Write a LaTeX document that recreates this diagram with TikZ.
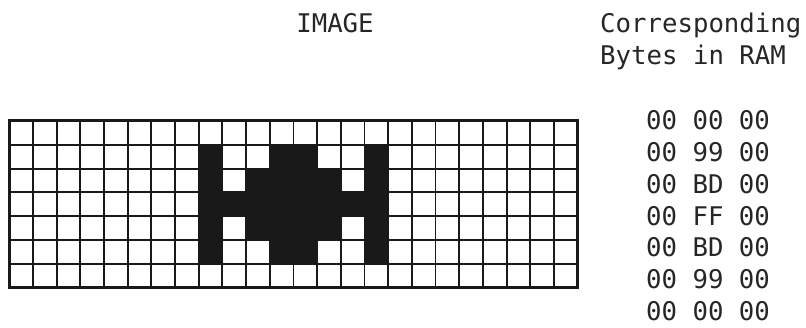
\documentclass[tikz,border=0pt]{standalone}
\usepackage{fontspec}
\newfontfamily\bytefont{DejaVu Sans Mono}
\begin{document}
\begin{tikzpicture}[x=1pt,y=-1pt,
  lbl/.style={font=\bytefont\fontsize{25.7}{30}\selectfont, inner sep=0pt, text=black!85},
  gridline/.style={line width=1.9pt, black!90},
  border/.style={line width=3pt, black!90},
  pixon/.style={fill=black!90},
  pixoff/.style={fill=white}]
\useasboundingbox (0,0) rectangle (806,328);
% headings
\node[lbl, anchor=base] (img) at (335,33) {IMAGE};
\node[lbl, anchor=base west] (corr) at (600,33) {Corresponding};
\node[lbl, anchor=base west] (bytes) at (600,65) {Bytes in RAM};
% byte rows
\foreach \k/\b in {0/00,1/99,2/BD,3/FF,4/BD,5/99,6/00}{
  \node[lbl, anchor=base] (row\k) at (708,{130+31.67*\k}) {00 \b{} 00};
}
% pixel grid
\begin{scope}[shift={(9.3,120.8)}, x=23.68pt, y=-23.88pt]
  \fill[pixon] (8,1) rectangle (16,6);
  \foreach \c/\r in {9/1,10/1,13/1,14/1,9/2,14/2,9/4,14/4,9/5,10/5,13/5,14/5}{
    \fill[pixoff] (\c,\r) rectangle ++(1,1);
  }
  \foreach \i in {1,...,23}{ \draw[gridline] (\i,0) -- (\i,7); }
  \foreach \j in {1,...,6}{ \draw[gridline] (0,\j) -- (24,\j); }
  \draw[border] (0,0) rectangle (24,7);
\end{scope}
\end{tikzpicture}
\end{document}
